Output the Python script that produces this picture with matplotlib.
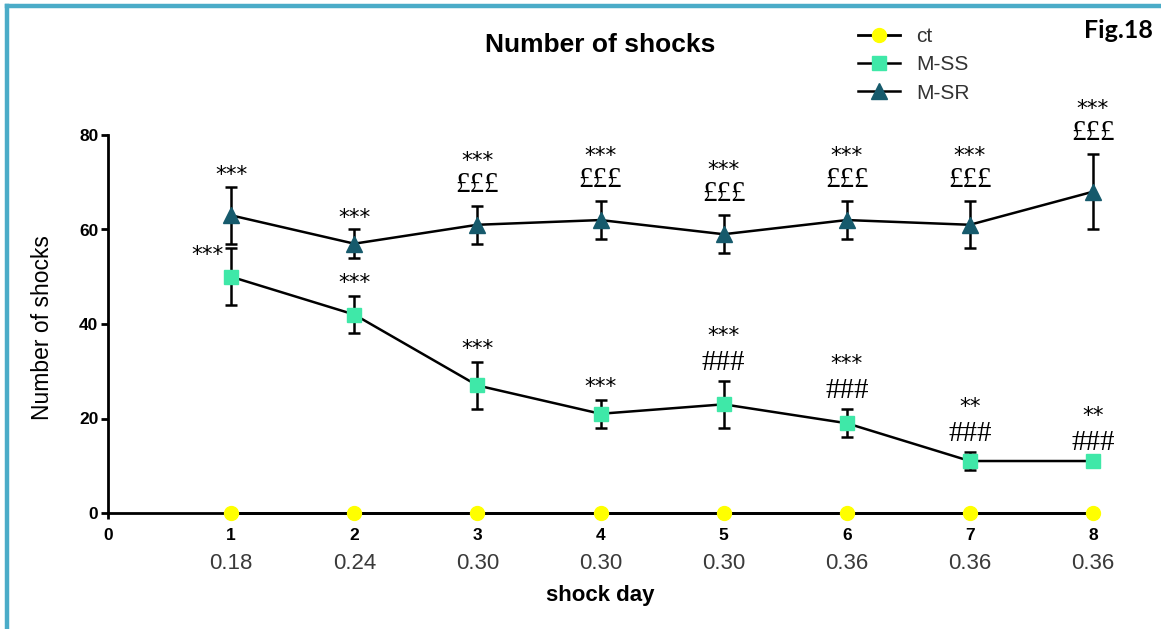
import matplotlib
matplotlib.use("Agg")
import matplotlib.pyplot as plt
from matplotlib.lines import Line2D

# ---- data ----
days = [1, 2, 3, 4, 5, 6, 7, 8]
doses = ["0.18", "0.24", "0.30", "0.30", "0.30", "0.36", "0.36", "0.36"]
ct_mean = [0, 0, 0, 0, 0, 0, 0, 0]
ss_mean = [50, 42, 27, 21, 23, 19, 11, 11]
ss_err = [6, 4, 5, 3, 5, 3, 2, 0]
sr_mean = [63, 57, 61, 62, 59, 62, 61, 68]
sr_err = [6, 3, 4, 4, 4, 4, 5, 8]
ss_stars = ["***", "***", "***", "***", "***", "***", "**", "**"]
ss_hash = ["", "", "", "", "###", "###", "###", "###"]
sr_stars = ["***", "***", "***", "***", "***", "***", "***", "***"]
sr_pound = ["", "", "£££", "£££", "£££", "£££", "£££", "£££"]
series_labels = ["ct", "M-SS", "M-SR"]
xticks = [0, 1, 2, 3, 4, 5, 6, 7, 8]
yticks = [0, 20, 40, 60, 80]

W, H = 1161, 629
fig = plt.figure(figsize=(W / 100, H / 100), dpi=100)
fig.patch.set_facecolor("white")

# frame border (top and left)
border_c = "#4BACC8"
fig.add_artist(Line2D([7 / W, 1.0], [1 - 6 / H, 1 - 6 / H], color=border_c, lw=3.2))
fig.add_artist(Line2D([7 / W, 7 / W], [0, 1 - 6 / H], color=border_c, lw=3.2))

ax = fig.add_axes([108 / W, 1 - 513 / H, (1093 - 108) / W, (513 - 135) / H])
ax.set_xlim(0, 8)
ax.set_ylim(0, 80)
for s in ["top", "right"]:
    ax.spines[s].set_visible(False)
for s in ["left", "bottom"]:
    ax.spines[s].set_linewidth(2.0)
    ax.spines[s].set_zorder(1)

sans = "Liberation Sans"
serif = "Liberation Serif"

ax.set_yticks(yticks)
ax.set_yticklabels([str(v) for v in yticks], fontfamily=sans, fontweight="bold", fontsize=12.5)
ax.set_xticks(xticks)
ax.set_xticklabels([str(v) for v in xticks], fontfamily=sans, fontweight="bold", fontsize=12.5)
ax.tick_params(axis="y", direction="out", length=5, width=2.0, pad=2)
ax.tick_params(axis="x", direction="out", length=4, width=2.0, pad=7)

# dose row under day numbers
for d, lab in zip(days, doses):
    ax.text(d, -0.133, lab, transform=ax.get_xaxis_transform(), ha="center", va="center",
            fontfamily=sans, fontsize=16, color="#3a3a3a")

ax.set_xlabel("shock day", fontfamily=sans, fontweight="bold", fontsize=16, va="center")
ax.xaxis.set_label_coords(0.4995, -0.217)
ax.set_ylabel("Number of shocks", fontfamily=sans, fontsize=16.5, va="center")
ax.yaxis.set_label_coords(-0.066, 0.49)
ax.set_title("Number of shocks", fontfamily=sans, fontweight="bold", fontsize=19,
             y=1.238, va="center", pad=0)

ss_color = "#3FE8A8"
sr_color = "#165A6C"
ct_color = "#FFFF00"

eb_sr = ax.errorbar(days, sr_mean, yerr=sr_err, fmt="none", ecolor="black", elinewidth=1.8,
                    capsize=4.2, capthick=1.8, zorder=3)
eb_ss = ax.errorbar(days, ss_mean, yerr=ss_err, fmt="none", ecolor="black",
                    elinewidth=1.8, capsize=4.2, capthick=1.8, zorder=3)
for eb in (eb_sr, eb_ss):
    for art in eb.get_children():
        art.set_clip_on(False)

l_ct, = ax.plot(days, ct_mean, color="black", lw=2, marker="o", ms=10, mfc=ct_color,
                mec=ct_color, clip_on=False, zorder=5, label=series_labels[0])
l_ss, = ax.plot(days, ss_mean, color="black", lw=1.8, marker="s", ms=10, mfc=ss_color,
                mec=ss_color, clip_on=False, zorder=4, label=series_labels[1])
l_sr, = ax.plot(days, sr_mean, color="black", lw=1.8, marker="^", ms=11, mfc=sr_color,
                mec=sr_color, clip_on=False, zorder=4, label=series_labels[2])

star_kw = dict(ha="center", va="center", fontfamily="DejaVu Sans", fontsize=15.5,
               textcoords="offset pixels", annotation_clip=False)
sym_kw = dict(ha="center", va="center", fontfamily=serif, fontsize=21,
              textcoords="offset pixels", annotation_clip=False)

# M-SR annotations
for d, m, e, st, pd in zip(days, sr_mean, sr_err, sr_stars, sr_pound):
    top = m + e
    if pd:
        ax.annotate(pd, (d, top), xytext=(0, 21), **sym_kw)
        ax.annotate(st, (d, top), xytext=(0, 45), **star_kw)
    else:
        ax.annotate(st, (d, top), xytext=(0, 12), **star_kw)

# M-SS annotations
for i, (d, m, e, st, hs) in enumerate(zip(days, ss_mean, ss_err, ss_stars, ss_hash)):
    top = m + e
    if i == 0:
        ax.annotate(st, (d, top), xytext=(-24, -7), **star_kw)
        continue
    if hs:
        ax.annotate(hs, (d, top), xytext=(0, 18), **sym_kw)
        ax.annotate(st, (d, top), xytext=(0, 45), **star_kw)
    else:
        ax.annotate(st, (d, top), xytext=(0, 13), **star_kw)

leg = fig.legend(handles=[l_ct, l_ss, l_sr], loc="upper left",
                 bbox_to_anchor=(858 / W, 1 - 27 / H), frameon=False,
                 prop={"family": sans, "size": 15}, handlelength=2.0,
                 handletextpad=0.8, labelspacing=0.45, borderpad=0, borderaxespad=0)
for t in leg.get_texts():
    t.set_color("#333333")

fig.text(1153 / W, 1 - 30 / H, "Fig.18", ha="right", va="center", fontfamily="Lato",
         fontweight="bold", fontsize=18, color="black")

fig.savefig("out.png", dpi=100)
